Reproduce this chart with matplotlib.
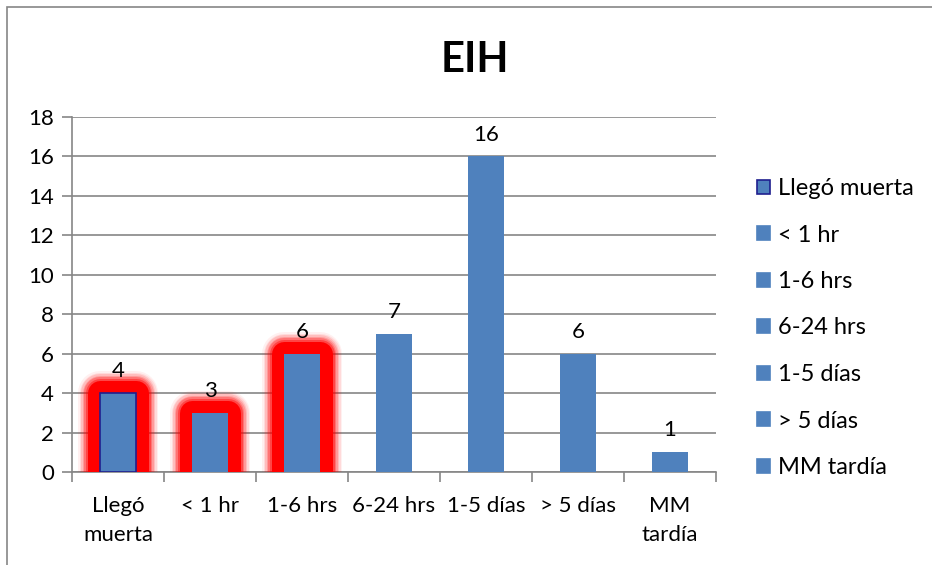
import matplotlib
matplotlib.use("Agg")
from matplotlib import pyplot as plt
from matplotlib import patheffects as pe
from matplotlib.patches import Patch, Rectangle
import numpy as np

categorias = ["Llegó\nmuerta", "< 1 hr", "1-6 hrs", "6-24 hrs", "1-5 días", "> 5 días", "MM\ntardía"]
leyenda = ["Llegó muerta", "< 1 hr", "1-6 hrs", "6-24 hrs", "1-5 días", "> 5 días", "MM tardía"]
valores = [4, 3, 6, 7, 16, 6, 1]
resaltadas = [True, True, True, False, False, False, False]

AZUL = "#4F81BD"
GRIS = "#868686"
plt.rcParams["font.family"] = ["Lato", "DejaVu Sans"]

def px(v):
    # pixels -> points at 100 dpi
    return v * 72 / 100

fig = plt.figure(figsize=(9.32, 5.65), dpi=100)
ax = fig.add_axes([72 / 932, 1 - 472 / 565, 644 / 932, 355 / 565])

# chart area border (left and top only, the rest runs off the image)
fig.add_artist(Rectangle((7 / 932, -0.1), 1.2, 1 - 7 / 565 + 0.1,
                         transform=fig.transFigure, fill=False,
                         edgecolor=GRIS, linewidth=1.2))

x = np.arange(len(valores))
bars = ax.bar(x, valores, width=0.39, color=AZUL, zorder=3)

# soft red halo: wide faint strokes first, then a solid core
glow = []
for w, a in [(44, 0.06), (41, 0.09), (38, 0.13), (35, 0.18), (32, 0.25), (29, 0.4)]:
    glow.append(pe.Stroke(linewidth=px(w), foreground="red", alpha=a, joinstyle="round"))
glow.append(pe.Stroke(linewidth=px(25), foreground="red", joinstyle="round"))
glow.append(pe.Normal())

for b, r in zip(bars, resaltadas):
    if r:
        b.set_path_effects(glow)
bars[0].set_edgecolor("#1F1F8F")
bars[0].set_linewidth(1.2)

for xi, v in zip(x, valores):
    ax.text(xi, v + 0.6, str(v), ha="center", va="bottom", fontsize=16, zorder=5)

ax.set_xlim(-0.5, len(valores) - 0.5)
ax.set_ylim(0, 18)
ax.set_yticks(range(0, 19, 2))
ax.grid(axis="y", color=GRIS, linewidth=1.2, zorder=0)
ax.set_axisbelow(True)

ax.set_xticks(x)
ax.set_xticklabels(categorias, fontsize=16, linespacing=1.6)
ax.set_xticks(np.arange(-0.5, len(valores), 1), minor=True)
ax.tick_params(axis="x", which="major", length=0, pad=17)
ax.tick_params(axis="x", which="minor", length=7, color=GRIS, width=1.2)
ax.tick_params(axis="y", length=7, color=GRIS, width=1.2, labelsize=16, pad=6)

for s in ["top", "right"]:
    ax.spines[s].set_visible(False)
for s in ["left", "bottom"]:
    ax.spines[s].set_color(GRIS)
    ax.spines[s].set_linewidth(1.2)

fig.text(475 / 932, 1 - 60 / 565, "EIH", ha="center", va="center",
         fontsize=30, fontweight="bold")

handles = [Patch(facecolor=AZUL, edgecolor="#1F1F8F" if i == 0 else AZUL, linewidth=1.2)
           for i in range(len(leyenda))]
ax.legend(handles, leyenda, loc="upper left", bbox_to_anchor=(757 / 932, 1 - 178 / 565),
          bbox_transform=fig.transFigure, frameon=False, fontsize=17,
          handlelength=0.55, handleheight=0.55, handletextpad=0.35,
          labelspacing=1.08, borderaxespad=0, borderpad=0)

fig.savefig("out.png", dpi=100)
